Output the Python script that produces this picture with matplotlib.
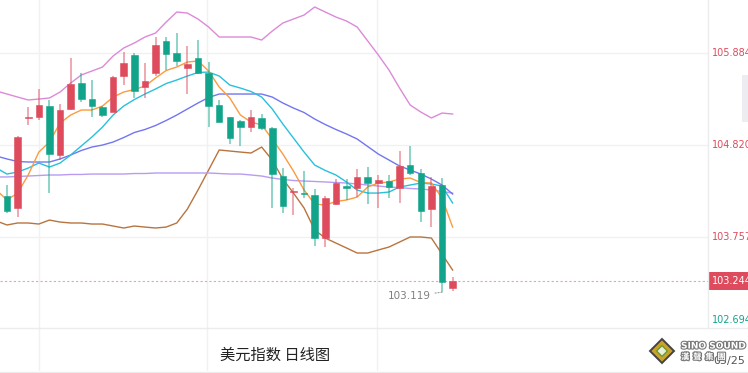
import matplotlib.pyplot as plt
import matplotlib.transforms as mtransforms
import matplotlib.patheffects as pe
from matplotlib.lines import Line2D
from matplotlib.patches import Rectangle, Polygon
import numpy as np

plt.rcParams['font.family'] = ['DejaVu Sans', 'Noto Sans CJK SC']

# daily candles (oldest first)
opens = [104.231, 104.092, 105.128, 105.144, 105.271, 104.705, 105.237, 105.537, 105.352, 105.260,
         105.202, 105.618, 105.861, 105.491, 105.653, 106.023, 105.884, 105.711, 105.826, 105.653,
         105.283, 105.144, 105.098, 105.028, 105.133, 105.017, 104.462, 104.272, 104.270, 104.242,
         103.745, 104.139, 104.346, 104.323, 104.451, 104.381, 104.404, 104.323, 104.589, 104.497,
         104.081, 104.358, 103.170]
highs = [104.358, 104.924, 105.260, 105.468, 105.341, 105.294, 105.826, 105.653, 105.572, 105.271,
         105.618, 105.896, 105.884, 105.768, 106.069, 106.069, 106.115, 105.965, 106.034, 105.780,
         105.341, 105.144, 105.109, 105.225, 105.179, 105.028, 104.555, 104.323, 104.520, 104.312,
         104.231, 104.427, 104.427, 104.543, 104.566, 104.474, 104.474, 104.751, 104.809, 104.543,
         104.451, 104.439, 103.300]
lows = [104.034, 103.988, 105.052, 105.109, 104.265, 104.647, 105.225, 105.318, 105.144, 105.144,
        105.202, 105.514, 105.364, 105.364, 105.618, 105.688, 105.734, 105.410, 105.641, 105.028,
        105.086, 104.832, 104.809, 104.971, 104.994, 104.092, 104.034, 104.011, 104.208, 103.653,
        103.641, 104.127, 104.185, 104.219, 104.139, 104.092, 104.208, 104.150, 104.474, 103.930,
        103.872, 103.119, 103.130]
closes = [104.057, 104.913, 105.138, 105.283, 104.716, 105.225, 105.526, 105.352, 105.271, 105.167,
          105.607, 105.768, 105.445, 105.560, 105.976, 105.872, 105.792, 105.757, 105.653, 105.271,
          105.086, 104.901, 105.028, 105.144, 105.017, 104.485, 104.115, 104.277, 104.265, 103.745,
          104.208, 104.381, 104.323, 104.451, 104.381, 104.416, 104.335, 104.578, 104.497, 104.057,
          104.346, 103.236, 103.244]

# indicator lines, one value per day starting one day before the first candle
ma5 = [104.300, 104.185, 104.265, 104.474, 104.739, 104.855, 105.075, 105.167, 105.225, 105.225,
       105.271, 105.375, 105.433, 105.462, 105.502, 105.595, 105.682, 105.722, 105.780, 105.792,
       105.676, 105.491, 105.364, 105.167, 105.086, 105.052, 104.890, 104.716, 104.520, 104.300,
       104.138, 104.127, 104.167, 104.185, 104.219, 104.335, 104.381, 104.393, 104.427, 104.439,
       104.387, 104.381, 104.208, 103.872]
ma10 = [104.554, 104.485, 104.508, 104.554, 104.612, 104.566, 104.612, 104.705, 104.809, 104.913,
        105.028, 105.167, 105.271, 105.346, 105.410, 105.468, 105.531, 105.572, 105.618, 105.659,
        105.664, 105.618, 105.514, 105.479, 105.439, 105.375, 105.237, 105.063, 104.901, 104.739,
        104.589, 104.526, 104.474, 104.393, 104.300, 104.265, 104.265, 104.277, 104.335, 104.358,
        104.381, 104.370, 104.346, 104.150]
ma20 = [104.693, 104.659, 104.630, 104.624, 104.624, 104.624, 104.659, 104.705, 104.757, 104.797,
        104.820, 104.855, 104.907, 104.965, 105.000, 105.046, 105.104, 105.167, 105.237, 105.306,
        105.370, 105.410, 105.410, 105.410, 105.410, 105.410, 105.375, 105.306, 105.248, 105.196,
        105.121, 105.057, 105.000, 104.948, 104.890, 104.803, 104.716, 104.647, 104.578, 104.531,
        104.485, 104.427, 104.358, 104.254]
ma60 = [104.451, 104.451, 104.457, 104.462, 104.468, 104.474, 104.474, 104.480, 104.480, 104.485,
        104.485, 104.485, 104.485, 104.491, 104.491, 104.497, 104.497, 104.497, 104.497, 104.497,
        104.497, 104.491, 104.485, 104.485, 104.474, 104.462, 104.439, 104.422, 104.410, 104.404,
        104.399, 104.393, 104.387, 104.381, 104.370, 104.358, 104.346, 104.335, 104.329, 104.318,
        104.312, 104.300, 104.283, 104.265]
boll_up = [105.445, 105.410, 105.375, 105.341, 105.352, 105.364, 105.433, 105.537, 105.630, 105.676,
           105.722, 105.849, 105.942, 106.000, 106.069, 106.115, 106.242, 106.358, 106.346, 106.277,
           106.185, 106.069, 106.069, 106.069, 106.069, 106.034, 106.138, 106.231, 106.277, 106.323,
           106.416, 106.358, 106.300, 106.254, 106.185, 106.023, 105.861, 105.688, 105.479, 105.283,
           105.202, 105.133, 105.190, 105.179]
boll_low = [103.942, 103.896, 103.919, 103.919, 103.907, 103.953, 103.930, 103.919, 103.919, 103.907,
            103.907, 103.884, 103.861, 103.884, 103.872, 103.861, 103.872, 103.919, 104.080, 104.300,
            104.531, 104.763, 104.751, 104.739, 104.728, 104.797, 104.647, 104.427, 104.265, 104.092,
            103.838, 103.745, 103.687, 103.630, 103.572, 103.572, 103.607, 103.641, 103.699, 103.757,
            103.757, 103.745, 103.560, 103.375]

price_ticks = [105.884, 104.820, 103.757, 102.694]
last_price = 103.244
low_label = 103.119
title = '美元指数 日线图'

up_col = '#dd4b5c'
down_col = '#12a48a'

W, H = 748, 373
fig = plt.figure(figsize=(W / 100, H / 100), dpi=100)
ax = fig.add_axes([0, (H - 328) / H, 708 / W, 328 / H])
ax2 = fig.add_axes([0, (H - 371) / H, 708 / W, 43 / H])

x = np.arange(len(opens))
xl = np.arange(-1, len(opens))
o = np.array(opens)
c = np.array(closes)
cols = [up_col if cc >= oo else down_col for oo, cc in zip(o, c)]

# light grid
vgrid = [3.0, 18.85, 34.87]
for a in (ax, ax2):
    for g in vgrid:
        a.axvline(g, color='#f1f1f3', lw=1.0, zorder=0)
for p in price_ticks[:3]:
    ax.axhline(p, color='#f1f1f3', lw=1.0, zorder=0)

# indicator lines
ax.plot(xl, boll_up, color='#dc8ad8', lw=1.0, zorder=2)
ax.plot(xl, boll_low, color='#b8743f', lw=1.0, zorder=2)
ax.plot(xl, ma60, color='#b79cf2', lw=1.0, zorder=2)
ax.plot(xl, ma20, color='#7276f0', lw=1.0, zorder=2)
ax.plot(xl, ma10, color='#28c0dc', lw=1.0, zorder=2)
ax.plot(xl, ma5, color='#fb9b40', lw=1.0, zorder=2)

# candles
ax.vlines(x, lows, highs, colors=cols, lw=1.1, alpha=0.6, zorder=3)
body = c - o
body = np.where(np.abs(body) < 0.012, np.where(body >= 0, 0.012, -0.012), body)
ax.bar(x, body, bottom=o, width=0.62, color=cols, edgecolor=cols, lw=0.4, zorder=4)

ax.set_xlim(-0.66, 66.07)
ax.set_ylim(102.705, 106.497)
ax2.set_xlim(-0.66, 66.07)
ax2.set_ylim(0, 1)
for a in (ax, ax2):
    a.set_xticks([])
    a.set_yticks([])
    for s in a.spines.values():
        s.set_visible(False)
    a.patch.set_alpha(0)

# last price line and tag
ax.axhline(last_price, color='#eea2aa', lw=0.8, ls=(0, (2, 2)), zorder=1)
trans = mtransforms.blended_transform_factory(ax.transAxes, ax.transData)
ty = ax.transData.transform((0, last_price))[1] / H
fig.add_artist(Rectangle((708 / W, ty - 9 / H), 40 / W, 18 / H, color=up_col, lw=0))
fig.text(712 / W, ty, '%.3f' % last_price, ha='left', va='center', color='white', fontsize=7)

# price labels on the right
for p in price_ticks:
    col = up_col if p > last_price else down_col
    off = 9 if p == price_ticks[-1] else 0
    ax.annotate('%.3f' % p, xy=(1.0, p), xycoords=trans, xytext=(3, off * 0.72),
                textcoords='offset points', ha='left', va='center', color=col, fontsize=7)

# lowest price marker
ax.annotate('%.3f' % low_label, xy=(41, low_label), xytext=(-8, -3), textcoords='offset points',
            ha='right', va='center', color='#808080', fontsize=7.5,
            arrowprops=dict(arrowstyle='-', ls=':', color='#999999', lw=0.8, shrinkA=1, shrinkB=0))

# frame lines
fig.add_artist(Line2D([708 / W, 708 / W], [1 - 328 / H, 1], color='#ececee', lw=1.0))
fig.add_artist(Line2D([0, 1], [1 - 328 / H, 1 - 328 / H], color='#ececee', lw=1.0))
fig.add_artist(Line2D([0, 1], [1 - 372 / H, 1 - 372 / H], color='#ececee', lw=1.0))

# small panel button at the right edge
fig.add_artist(Rectangle((742 / W, 1 - 122 / H), 8 / W, 47 / H, color='#ededf1', lw=0))

# chart title
fig.text(220 / W, 1 - 355 / H, title, ha='left', va='center', fontsize=11, color='#222222',
         family=['Noto Sans CJK SC', 'DejaVu Sans'])

# watermark logo
fig.text(713 / W, 1 - 361 / H, '05/25', ha='left', va='center', fontsize=8, color='#555555')
cx, cy = 662 / W, 1 - 351 / H
dx, dy = 12 / W, 12 / H
fig.add_artist(Polygon([(cx - dx, cy), (cx, cy + dy), (cx + dx, cy), (cx, cy - dy)],
                       closed=True, fc='#c9a227', ec='#444444', lw=1.4))
fig.add_artist(Polygon([(cx - dx * 0.45, cy), (cx, cy + dy * 0.45), (cx + dx * 0.45, cy), (cx, cy - dy * 0.45)],
                       closed=True, fc='#e8f0d8', ec='#6a9a3a', lw=1.0))
stroke = [pe.withStroke(linewidth=1.6, foreground='#777777')]
fig.text(681 / W, 1 - 346 / H, 'SINO SOUND', ha='left', va='center', fontsize=6.5, weight='bold',
         color='white', path_effects=stroke)
fig.text(681 / W, 1 - 357 / H, '漢  聲  集  團', ha='left', va='center', fontsize=6, weight='bold',
         color='white', path_effects=stroke, family=['Noto Sans CJK TC', 'DejaVu Sans'])

fig.savefig('out.png', dpi=100, facecolor='white')
